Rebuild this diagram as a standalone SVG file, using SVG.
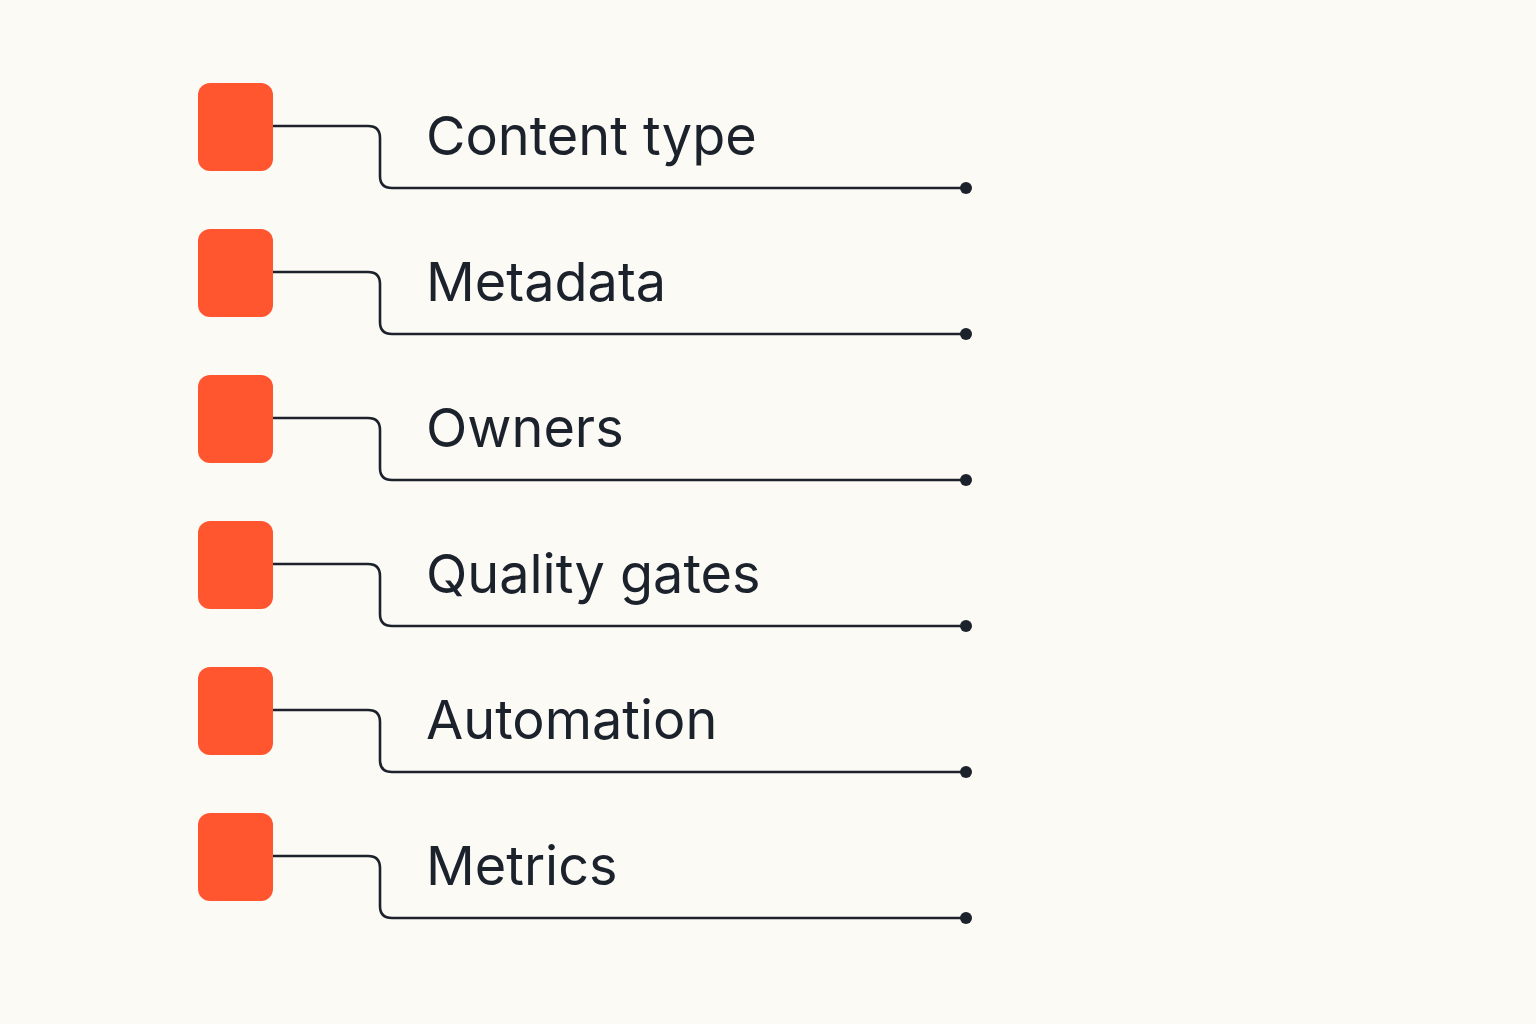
<svg xmlns="http://www.w3.org/2000/svg" width="1536" height="1024" viewBox="0 0 1536 1024">
<style>
.box{fill:#ff5630}
.ln{fill:none;stroke:#1c222c;stroke-width:2.6;stroke-linecap:round;stroke-linejoin:round}
.dot{fill:#1c222c}
.lbl{font-family:Inter,"Noto Sans",sans-serif;font-size:54px;fill:#1c222c}
</style>
<rect width="1536" height="1024" fill="#fcfaf5"/>
<g id="connectors">
<path class="ln" d="M273 126 H368 Q380 126 380 138 V176 Q380 188 392 188 H966"/>
<path class="ln" d="M273 272 H368 Q380 272 380 284 V322 Q380 334 392 334 H966"/>
<path class="ln" d="M273 418 H368 Q380 418 380 430 V468 Q380 480 392 480 H966"/>
<path class="ln" d="M273 564 H368 Q380 564 380 576 V614 Q380 626 392 626 H966"/>
<path class="ln" d="M273 710 H368 Q380 710 380 722 V760 Q380 772 392 772 H966"/>
<path class="ln" d="M273 856 H368 Q380 856 380 868 V906 Q380 918 392 918 H966"/>
<circle class="dot" cx="966" cy="188" r="6"/>
<circle class="dot" cx="966" cy="334" r="6"/>
<circle class="dot" cx="966" cy="480" r="6"/>
<circle class="dot" cx="966" cy="626" r="6"/>
<circle class="dot" cx="966" cy="772" r="6"/>
<circle class="dot" cx="966" cy="918" r="6"/>
</g>
<g id="n1"><rect class="box" x="198" y="83" width="75" height="88" rx="12"/><text class="lbl" x="426" y="155">Content type</text></g>
<g id="n2"><rect class="box" x="198" y="229" width="75" height="88" rx="12"/><text class="lbl" x="426" y="301">Metadata</text></g>
<g id="n3"><rect class="box" x="198" y="375" width="75" height="88" rx="12"/><text class="lbl" x="426" y="447">Owners</text></g>
<g id="n4"><rect class="box" x="198" y="521" width="75" height="88" rx="12"/><text class="lbl" x="426" y="593">Quality gates</text></g>
<g id="n5"><rect class="box" x="198" y="667" width="75" height="88" rx="12"/><text class="lbl" x="426" y="739">Automation</text></g>
<g id="n6"><rect class="box" x="198" y="813" width="75" height="88" rx="12"/><text class="lbl" x="426" y="885">Metrics</text></g>
</svg>
